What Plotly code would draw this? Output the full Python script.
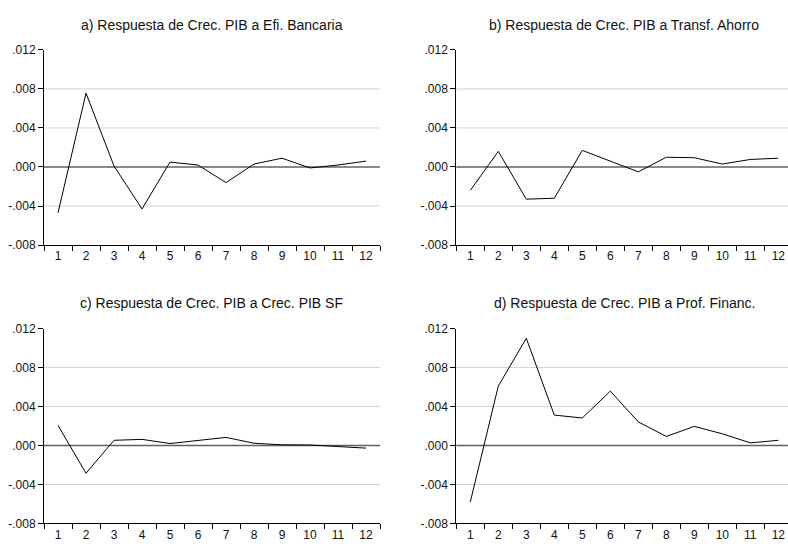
import plotly.graph_objects as go

periods = [str(i) for i in range(1, 13)]

resp_efi_bancaria = [-0.0047, 0.00756, 0.0001, -0.0043, 0.0005, 0.0002, -0.0016, 0.0003, 0.0009, -0.0001, 0.0002, 0.0006]
resp_transf_ahorro = [-0.0024, 0.0016, -0.0033, -0.0032, 0.0017, 0.0006, -0.0005, 0.0010, 0.00095, 0.0003, 0.00077, 0.0009]
resp_crec_pib_sf = [0.00206, -0.00285, 0.00053, 0.00063, 0.0002, 0.0005, 0.00083, 0.00023, 0.00007, 0.00005, -0.0001, -0.00027]
resp_prof_financ = [-0.0058, 0.0061, 0.0110, 0.00312, 0.00282, 0.00558, 0.00242, 0.00093, 0.00196, 0.0012, 0.00027, 0.00053]

titles = [
    "a) Respuesta de Crec. PIB a Efi. Bancaria",
    "b) Respuesta de Crec. PIB a Transf. Ahorro",
    "c) Respuesta de Crec. PIB a Crec. PIB SF",
    "d) Respuesta de Crec. PIB a Prof. Financ.",
]
series = [resp_efi_bancaria, resp_transf_ahorro, resp_crec_pib_sf, resp_prof_financ]

y_tickvals = [-0.008, -0.004, 0.0, 0.004, 0.008, 0.012]
y_ticktext = ["-.008", "-.004", ".000", ".004", ".008", ".012"]
grid_vals = [-0.004, 0.004, 0.008]

W, H = 788, 547
FONT = "Liberation Sans, Arial, sans-serif"

# pixel geometry of each panel: (left, right, top, bottom)
panels = [
    (44.0, 380.0, 44.0, 244.3),
    (456.3, 792.3, 44.0, 244.3),
    (44.0, 380.0, 330.0, 530.0),
    (456.3, 792.3, 330.0, 530.0),
]

fig = go.Figure()
annotations = []
shapes = []

for i, (vals, title, (l, r, t, b)) in enumerate(zip(series, titles, panels)):
    n = i + 1
    xa = "xaxis" if n == 1 else f"xaxis{n}"
    ya = "yaxis" if n == 1 else f"yaxis{n}"
    xr = "x" if n == 1 else f"x{n}"
    yr = "y" if n == 1 else f"y{n}"
    vis_r = min(r, W)
    step = (r - l) / 12.0
    x_hi = -0.5 + (vis_r - l) / step

    fig.add_trace(go.Scatter(
        x=periods, y=vals, mode="lines",
        line=dict(color="black", width=1),
        xaxis=xr, yaxis=yr, showlegend=False, hoverinfo="skip",
    ))

    fig.update_layout(**{
        xa: dict(
            domain=[l / W, vis_r / W], anchor=yr, type="category",
            categoryorder="array", categoryarray=periods,
            range=[-0.5, x_hi], tickson="boundaries",
            ticks="outside", ticklen=5, tickwidth=1, tickcolor="black",
            showline=True, linecolor="black", linewidth=1,
            showgrid=False, zeroline=False,
            tickfont=dict(family=FONT, size=12, color="#111"),
            fixedrange=True,
        ),
        ya: dict(
            domain=[1 - b / H, 1 - t / H], anchor=xr,
            range=[-0.008, 0.012], tickvals=y_tickvals, ticktext=y_ticktext,
            ticks="outside", ticklen=5, tickwidth=1, tickcolor="black",
            showline=True, linecolor="black", linewidth=1,
            showgrid=False, zeroline=False,
            tickfont=dict(family=FONT, size=12, color="#111"),
            fixedrange=True,
        ),
    })

    for gv in grid_vals:
        shapes.append(dict(type="line", xref=f"{xr} domain", yref=yr,
                           x0=0, x1=1, y0=gv, y1=gv,
                           line=dict(color="#d4d4d4", width=1), layer="below"))
    shapes.append(dict(type="line", xref=f"{xr} domain", yref=yr,
                       x0=0, x1=1, y0=0, y1=0,
                       line=dict(color="#606060", width=1.5), layer="below"))

    annotations.append(dict(
        text=title, xref="paper", yref="paper",
        x=((l + r) / 2) / W, y=1 - (t - 26) / H,
        xanchor="center", yanchor="middle", showarrow=False,
        font=dict(family=FONT, size=14, color="#111"),
    ))

fig.update_layout(
    width=W, height=H,
    margin=dict(l=0, r=0, t=0, b=0),
    paper_bgcolor="white", plot_bgcolor="white",
    annotations=annotations, shapes=shapes,
    showlegend=False,
)

fig.write_html("out.html", config={"displayModeBar": False})
